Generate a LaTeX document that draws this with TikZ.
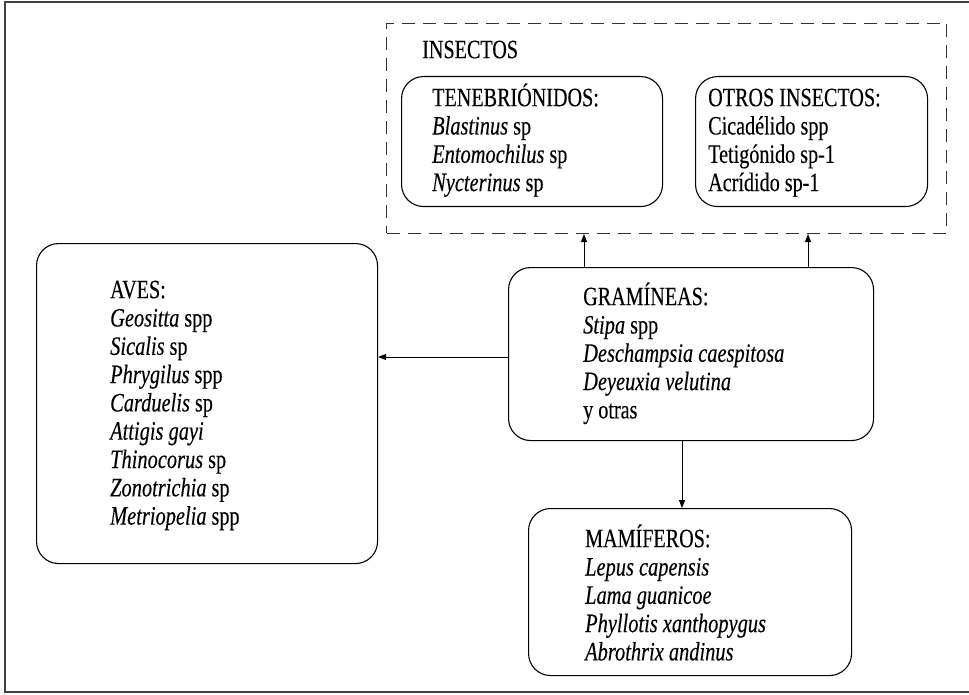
\documentclass[tikz,border=0pt]{standalone}
\usepackage{fontspec}
\setmainfont{Liberation Serif}[
  UprightFeatures={FakeStretch=0.76, FakeBold=0.25},
  ItalicFeatures={FakeStretch=0.77, FakeBold=0.25}]
\usetikzlibrary{arrows.meta}

\begin{document}
\begin{tikzpicture}[x=1pt, y=-1pt,
  card/.style={draw=black, line width=1.1pt, rounded corners=22pt, inner sep=0pt},
  group/.style={draw=black!80, line width=1pt, dash pattern=on 13pt off 8pt, inner sep=0pt},
  entries/.style={anchor=north west, inner sep=0pt, align=left,
    font=\fontsize{26.5}{28.3}\selectfont},
  arr/.style={draw=black, line width=0.9pt, -{Triangle[length=8pt,width=6pt]}},
]
% canvas and outer frame (open on the right)
\useasboundingbox (0,0) rectangle (969,695);
\draw[black!75, line width=1.6pt] (969,2) -- (5,2) -- (5,692) -- (969,692);

% the insect group (dashed) with its two sub-boxes
\node[group, minimum width=560, minimum height=210, anchor=north west] (insect) at (386,23) {};
\node[entries] (insectlabel) at (422,34) {\rule{0pt}{24pt}INSECTOS};

\node[card, minimum width=261, minimum height=130, anchor=north west] (tene) at (401,76) {};
\node[entries] (tenelist) at (432,82) {\rule{0pt}{24pt}TENEBRIÓNIDOS:\\
  \textit{Blastinus} sp\\
  \textit{Entomochilus} sp\\
  \textit{Nycterinus} sp};

\node[card, minimum width=232, minimum height=130, anchor=north west] (otros) at (695,76) {};
\node[entries] (otroslist) at (708,82) {\rule{0pt}{24pt}OTROS INSECTOS:\\
  Cicadélido spp\\
  Tetigónido sp-1\\
  Acrídido sp-1};

% birds
\node[card, minimum width=341, minimum height=320, anchor=north west] (aves) at (36,243) {};
\node[entries] (aveslist) at (110,274) {\rule{0pt}{24pt}AVES:\\
  \textit{Geositta} spp\\
  \textit{Sicalis} sp\\
  \textit{Phrygilus} spp\\
  \textit{Carduelis} sp\\
  \textit{Attigis gayi}\\
  \textit{Thinocorus} sp\\
  \textit{Zonotrichia} sp\\
  \textit{Metriopelia} spp};

% grasses
\node[card, minimum width=365, minimum height=173, anchor=north west] (gram) at (508,267) {};
\node[entries] (gramlist) at (583,281) {\rule{0pt}{24pt}GRAMÍNEAS:\\
  \textit{Stipa} spp\\
  \textit{Deschampsia caespitosa}\\
  \textit{Deyeuxia velutina}\\
  y otras};

% mammals
\node[card, minimum width=323, minimum height=167, anchor=north west] (mam) at (528,508) {};
\node[entries] (mamlist) at (585,523) {\rule{0pt}{24pt}MAMÍFEROS:\\
  \textit{Lepus capensis}\\
  \textit{Lama guanicoe}\\
  \textit{Phyllotis xanthopygus}\\
  \textit{Abrothrix andinus}};

% connectors
\coordinate (upa) at (584,0);
\coordinate (upb) at (808,0);
\coordinate (left) at (0,357);
\coordinate (down) at (682,0);
\draw[arr] (upa |- gram.north) -- (upa |- insect.south);
\draw[arr] (upb |- gram.north) -- (upb |- insect.south);
\draw[arr] (left -| gram.west) -- (left -| aves.east);
\draw[arr] (down |- gram.south) -- (down |- mam.north);
\end{tikzpicture}
\end{document}
